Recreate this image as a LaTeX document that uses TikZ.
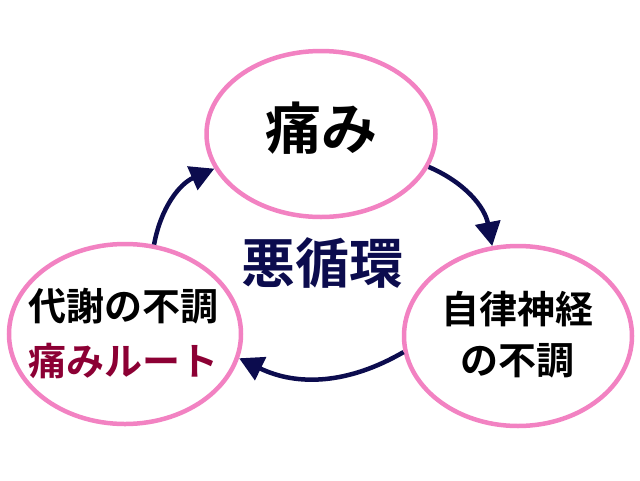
\documentclass[tikz,border=0pt]{standalone}
\usepackage{fontspec}
\newfontfamily\cjk{Noto Sans CJK JP}[BoldFont={Noto Sans CJK JP Bold}]
\usetikzlibrary{shapes.geometric,arrows.meta}
\definecolor{pinkline}{HTML}{F282C2}
\definecolor{navy}{HTML}{0C0C4E}
\definecolor{crimson}{HTML}{8C0034}
\tikzset{
  circ/.style={ellipse, draw=pinkline, line width=4.5pt, fill=white, inner sep=0pt, align=center},
  flow/.style={draw=navy, line width=4.5pt, -{Triangle[length=24pt,width=25pt]}, bend left=28},
  lbl/.style={font=\cjk\bfseries\fontsize{38}{52}\selectfont, align=center}
}
\begin{document}
\begin{tikzpicture}[x=1pt,y=-1pt]
\useasboundingbox (0,0) rectangle (640,480);
\node[circ, minimum width=229pt, minimum height=166pt] (top) at (321,134) {};
\node[circ, minimum width=232pt, minimum height=180pt] (left) at (125,334) {};
\node[circ, minimum width=228pt, minimum height=180pt] (right) at (518,336) {};
\node[font=\cjk\bfseries\fontsize{56}{60}\selectfont] (t) at (321,128) {痛み};
\node[lbl] (l1) at (123,306) {代謝の不調};
\node[lbl, text=crimson] (l2) at (123,361) {痛みルート};
\node[lbl] (r1) at (517,309) {自律神経};
\node[lbl] (r2) at (517,361) {の不調};
\node[font=\cjk\bfseries\fontsize{54}{60}\selectfont, text=navy] (c) at (322,263) {悪循環};
\draw[flow] (top.-17) to (right.106);
\draw[flow] (right.188) to (left.-12);
\draw[flow] (left.72) to (top.198);
\end{tikzpicture}
\end{document}
